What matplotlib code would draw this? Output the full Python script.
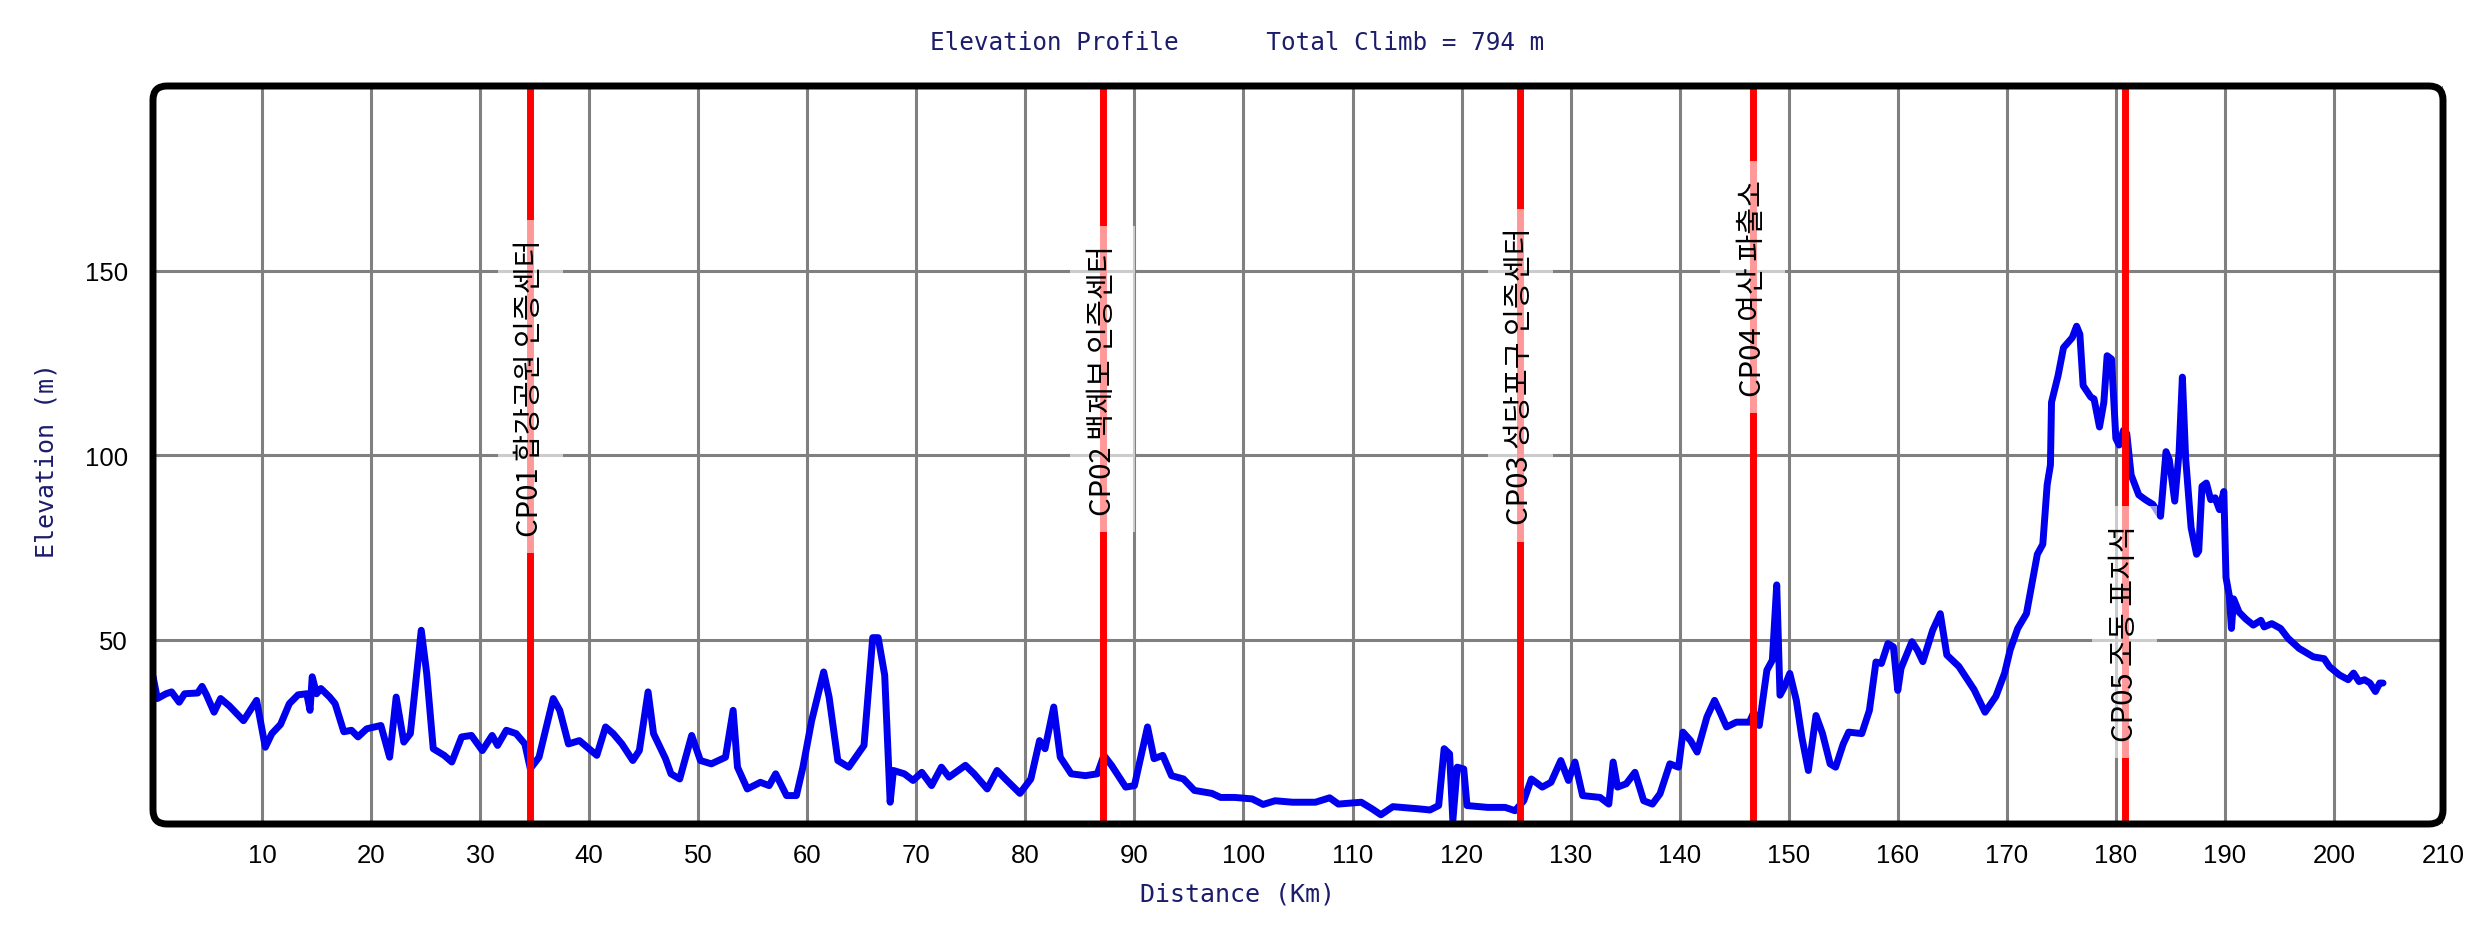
import matplotlib
matplotlib.use("Agg")
import matplotlib.pyplot as plt
from matplotlib.patches import FancyBboxPatch

# elevation profile (km, m)
dist_km = [
    0.0, 0.4, 1.2, 1.7, 2.4, 2.9, 4.1, 4.5, 4.9, 5.6, 6.2, 7.0, 8.3, 9.5, 10.3, 10.9,
    11.7, 12.5, 13.3, 14.1, 14.4, 14.6, 15.0, 15.4, 16.2, 16.7, 17.5, 18.2, 18.8, 19.6,
    20.9, 21.7, 22.3, 23.0, 23.6, 24.6, 25.1, 25.7, 26.7, 27.4, 28.3, 29.2, 30.2, 31.1,
    31.6, 32.4, 33.3, 34.1, 34.6, 35.4, 36.7, 37.3, 38.1, 39.1, 40.7, 41.5, 42.2, 43.0,
    44.0, 44.6, 45.4, 45.9, 47.0, 47.5, 48.3, 49.4, 50.2, 51.2, 52.5, 53.2, 53.6, 54.5,
    55.7, 56.5, 57.1, 58.1, 59.0, 59.6, 60.4, 61.5, 62.0, 62.8, 63.8, 65.2, 66.0, 66.5,
    67.1, 67.6, 67.9, 68.9, 69.7, 70.5, 71.4, 72.3, 73.0, 74.5, 75.3, 76.5, 77.4, 78.3,
    79.5, 80.5, 81.3, 81.8, 82.6, 83.2, 84.2, 85.5, 86.6, 87.2, 87.9, 89.2, 90.0, 91.2,
    91.8, 92.6, 93.4, 94.5, 95.5, 97.1, 97.9, 99.2, 100.8, 101.8, 102.9, 104.5, 106.6,
    107.9, 108.7, 110.8, 111.8, 112.6, 113.7, 114.5, 116.1, 117.1, 117.9, 118.4, 118.9,
    119.2, 119.6, 120.2, 120.5, 122.4, 124.0, 124.9, 125.7, 126.4, 127.4, 128.2, 129.1,
    129.8, 130.4, 131.1, 132.7, 133.5, 133.9, 134.3, 135.1, 135.9, 136.7, 137.5, 138.2,
    139.1, 139.9, 140.3, 141.0, 141.6, 142.5, 143.2, 143.7, 144.3, 145.2, 146.4, 146.8,
    147.3, 148.0, 148.5, 148.9, 149.2, 149.6, 150.1, 150.7, 151.2, 151.8, 152.5, 153.1,
    153.8, 154.3, 155.0, 155.5, 156.7, 157.4, 158.0, 158.5, 159.1, 159.6, 160.0, 160.3,
    161.3, 161.8, 162.3, 163.2, 163.9, 164.5, 165.6, 167.0, 168.0, 169.0, 169.8, 170.3,
    171.0, 171.8, 172.8, 173.3, 173.7, 174.0, 174.1, 174.7, 175.2, 176.0, 176.4, 176.7,
    177.0, 177.7, 178.0, 178.5, 178.9, 179.2, 179.6, 180.0, 180.3, 180.7, 181.0, 181.4,
    182.1, 182.7, 183.4, 184.1, 184.6, 184.9, 185.4, 185.8, 186.1, 186.4, 186.9, 187.4,
    187.6, 187.9, 188.3, 188.7, 189.1, 189.5, 189.9, 190.1, 190.4, 190.6, 190.8, 191.3,
    191.9, 192.6, 193.3, 193.6, 194.3, 195.1, 195.8, 196.8, 198.1, 199.1, 199.6, 200.5,
    201.3, 201.8, 202.3, 202.8, 203.3, 203.8, 204.2, 204.5,
]
elev_m = [
    40, 34, 35.3, 35.8, 33, 35.3, 35.5, 37.3, 35, 30.3, 34, 32, 28, 33.5, 20.8, 24.5,
    27, 32.6, 35, 35.3, 30.8, 39.9, 35.3, 36.7, 34.4, 32.6, 25, 25.4, 23.6, 25.8,
    26.7, 18.1, 34.4, 22.2, 24.5, 52.5, 40.8, 20.4, 18.6, 16.8, 23.6, 24, 19.9, 24,
    21.3, 25.4, 24.5, 21.7, 15, 18.1, 34, 30.8, 21.7, 22.6, 18.6, 26.3, 24.5, 21.7,
    17.2, 19.9, 35.8, 24.5, 17.7, 13.6, 12.2, 24, 17.2, 16.3, 18.1, 30.8, 15.4, 9.5,
    11.3, 10.4, 13.6, 7.7, 7.7, 15.4, 28, 41.2, 34.4, 17.2, 15.4, 21.3, 50.5, 50.5,
    40.3, 5.9, 14.5, 13.6, 11.8, 14, 10.4, 15.4, 12.7, 15.9, 13.6, 9.5, 14.5, 11.8,
    8.3, 12.2, 22.6, 20.4, 31.7, 18.1, 13.6, 13.1, 13.6, 18.6, 15.9, 10, 10.4, 26.3,
    17.7, 18.6, 13.1, 12.2, 9.1, 8.3, 7.2, 7.2, 6.8, 5.3, 6.3, 5.9, 5.9,
    7.1, 5.4, 5.9, 4.1, 2.5, 4.7, 4.5, 4.1, 3.8, 5, 20.4, 19,
    0.9, 15.4, 14.9, 5, 4.5, 4.5, 3.6, 6.3, 12.2, 10, 11.3, 17.2,
    11.8, 16.8, 7.7, 7.2, 5.4, 16.8, 10, 10.9, 14, 6.3, 5.4, 8.2,
    16.3, 15.4, 24.9, 22.6, 19.5, 29, 33.5, 30.3, 26.3, 27.6, 27.6, 30.3,
    26.7, 41.7, 44.4, 64.8, 34.9, 37.1, 40.8, 33.5, 23.6, 14.5, 29.4, 24.5,
    16.3, 15.4, 21.7, 24.9, 24.5, 30.8, 43.9, 43.5, 48.9, 48, 36.2, 42.2,
    49.4, 47.1, 44, 52.5, 57, 45.8, 42.7, 36.4, 30.3, 34.6, 40.9, 47.1,
    53, 57, 73.1, 75.8, 91.9, 97.3, 114.3, 121.5, 129.1, 131.8, 134.9, 132.7,
    118.8, 115.7, 115.2, 107.6, 114.3, 126.9, 126, 104.5, 102.7, 106.7, 105.8, 94.6,
    89.2, 87.9, 86.6, 83.4, 100.9, 98.7, 87.5, 100.9, 121.1, 99.1, 80.3, 73.1,
    74, 91.5, 92.4, 87.9, 88.4, 85.2, 90.1, 66.8, 61.9, 53, 61, 57.4,
    55.6, 53.9, 55.2, 53.4, 54.3, 53, 50.3, 47.6, 45.3, 44.8, 42.6, 40.4,
    39.1, 40.9, 38.6, 39.1, 38.2, 35.9, 38.2, 38.2,
]

cp_km = [34.6, 87.1, 125.4, 146.7, 180.8]
cp_names = ["CP01 합강공원 인증센터", "CP02 백제보 인증센터", "CP03 성당포구 인증센터",
            "CP04 여산 파출소", "CP05 조동 표지석"]
cp_label_y = [118.5, 120.5, 121.5, 145.5, 52.0]

x_ticks = list(range(10, 211, 10))
y_ticks = [50, 100, 150]

navy = "#1c1c6b"
mono = "DejaVu Sans Mono"

dpi = 100
W, H = 2475, 929
left, right, top, bottom = 153, 2443, 87, 825
fig = plt.figure(figsize=(W / dpi, H / dpi), dpi=dpi)
ax = fig.add_axes([left / W, 1 - bottom / H, (right - left) / W, (bottom - top) / H])

ax.set_xlim(0, 210)
ax.set_ylim(0, 200)
ax.set_xticks(x_ticks)
ax.set_yticks(y_ticks)
ax.tick_params(length=0, labelsize=18.5)
ax.tick_params(axis="x", pad=14)
ax.tick_params(axis="y", pad=18)
for lbl in ax.get_xticklabels() + ax.get_yticklabels():
    lbl.set_family("Liberation Sans")

ax.grid(True, color="#808080", linewidth=2.2, zorder=1)
ax.set_axisbelow(True)
for sp in ax.spines.values():
    sp.set_visible(False)

# rounded black frame around the plot area
r = 14 / (right - left)
frame = FancyBboxPatch((0, 0), 1, 1, boxstyle=f"round,pad=0,rounding_size={r}",
                       mutation_aspect=(right - left) / (bottom - top),
                       transform=ax.transAxes, fill=False, ec="black", lw=5,
                       clip_on=False, zorder=10)
ax.add_patch(frame)

ax.plot(dist_km, elev_m, color="#0000ee", linewidth=5, solid_joinstyle="round",
        solid_capstyle="round", zorder=3)

for km, name, ly in zip(cp_km, cp_names, cp_label_y):
    ax.axvline(km, color="#ff0000", linewidth=5, zorder=4)
    ax.text(km, ly, name, rotation=90, ha="center", va="center", fontsize=21,
            family=["Noto Sans CJK KR", "DejaVu Sans"], color="black", zorder=5,
            bbox=dict(boxstyle="square,pad=0.6", fc="white", ec="none", alpha=0.6))

fig.text(0.5, 1 - 43 / H, "Elevation Profile      Total Climb = 794 m",
         ha="center", va="center", fontsize=17.5, family=mono, color=navy)
fig.text(0.5, 1 - 895 / H, "Distance (Km)", ha="center", va="center",
         fontsize=18, family=mono, color=navy)
fig.text(47 / W, 1 - 461 / H, "Elevation (m)", ha="center", va="center",
         rotation=90, fontsize=18, family=mono, color=navy)

fig.savefig("out.png", dpi=dpi, facecolor="white")
